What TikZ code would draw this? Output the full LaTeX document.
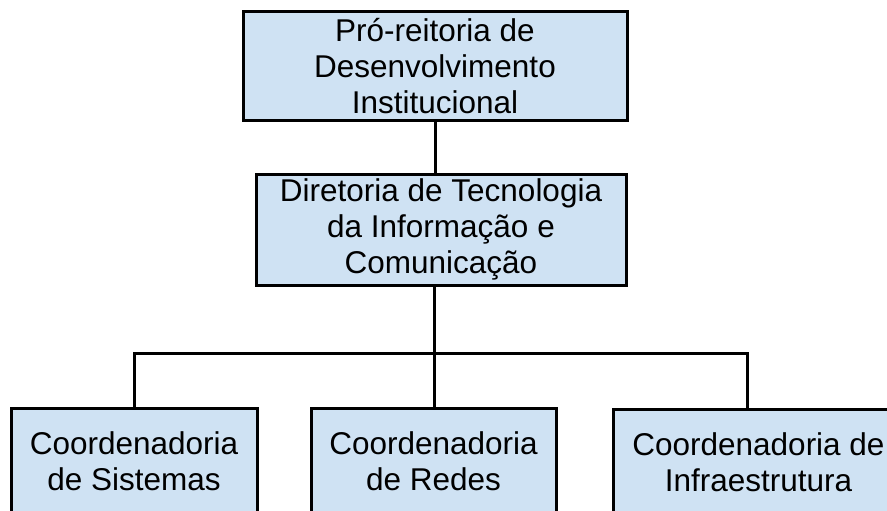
\documentclass[tikz,border=0pt]{standalone}
\usepackage{fontspec}
\setmainfont{Liberation Sans}
\usetikzlibrary{positioning}
\definecolor{boxblue}{HTML}{CFE2F3}

\begin{document}
\begin{tikzpicture}[x=1pt,y=-1pt,line width=3pt,
    box node/.style={rectangle,draw,fill=boxblue,align=center,inner sep=0pt,
      font=\fontsize{31.5}{36}\selectfont}]
  \useasboundingbox (0,0) rectangle (887,511);
   \begin{scope}
      \node[box node,minimum width=384pt,minimum height=108pt] (pdi) at (435,66)
        {Pró-reitoria de\\Desenvolvimento\\Institucional};
      \node[box node,minimum width=370pt,minimum height=111pt] (dti) at (441,229.5)
        {Diretoria de Tecnologia\\da Informação e\\Comunicação};
      \node[box node,minimum width=246pt,minimum height=106pt] (sist) at (134,461)
        {Coordenadoria\\de Sistemas};
      \node[box node,minimum width=245pt,minimum height=106pt] (redes) at (433.5,461)
        {Coordenadoria\\de Redes};
      \node[box node,minimum width=290pt,minimum height=106pt,anchor=north west] (infra) at (612,408)
        {Coordenadoria de\\Infraestrutura};
      \coordinate (bar) at (434,353);
       \path[-] (pdi.south) edge (pdi.south |- dti.north);
       \path[-] (dti.south -| bar) edge (bar);
       \draw (sist.north) |- (bar) -| ([xshift=135pt]infra.north west);
       \path[-] (bar) edge (bar |- redes.north);
    \end{scope}
  \end{tikzpicture}
\end{document}
